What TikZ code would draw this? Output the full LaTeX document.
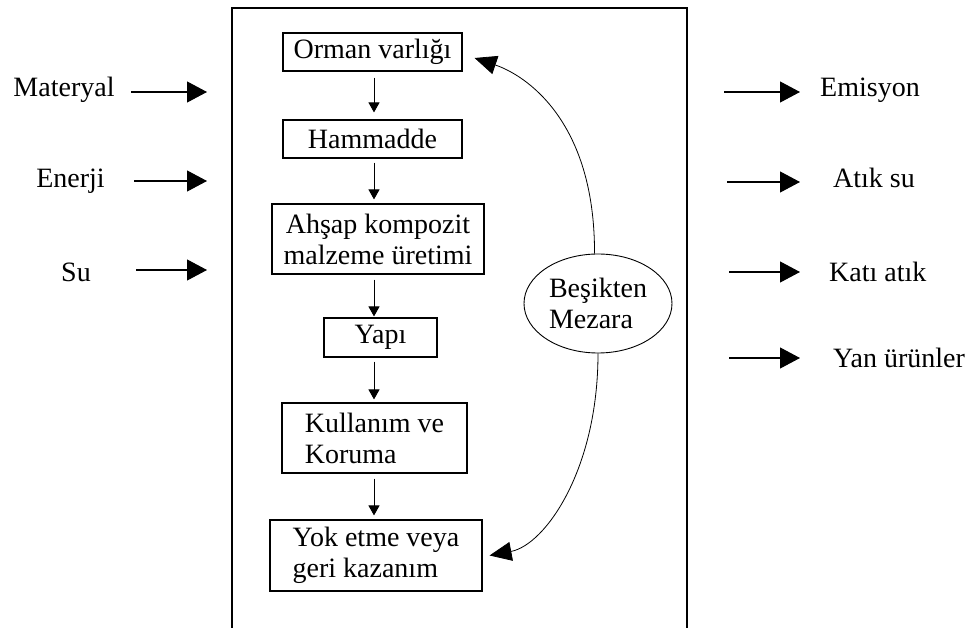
\documentclass[tikz,border=0pt]{standalone}
\usepackage{fontspec}
\setmainfont{Liberation Serif}
\usetikzlibrary{arrows.meta,shapes.geometric,calc}

\begin{document}
\begin{tikzpicture}[x=1pt,y=-1pt,
  txt/.style={font=\fontsize{28}{31}\selectfont, inner sep=0pt},
  stage/.style={txt, draw, line width=1.1pt, align=left},
  flow/.style={line width=1pt, -{Triangle[length=10pt,width=11pt]}},
  sidearrow/.style={line width=1.1pt, -{Triangle[length=20pt,width=21pt]}},
  cycle/.style={line width=0.8pt, -{Triangle[length=22pt,width=19pt]}}]
\useasboundingbox (0,0) rectangle (970,628);

% system boundary (open at the bottom)
\draw[line width=1.5pt] (232,640) -- (232,8) -- (687,8) -- (687,640);

% life-cycle stages
\node[stage, minimum width=179pt, minimum height=38pt] (orman) at (372.5,52) {Orman varlığı};
\node[stage, minimum width=179pt, minimum height=38pt] (ham) at (372.5,139) {Hammadde};
\node[stage, minimum width=212pt, minimum height=70pt, align=center] (uretim) at (378,239) {Ahşap kompozit\\malzeme üretimi};
\node[stage, minimum width=113pt, minimum height=39pt] (yapi) at (380.5,337.5) {Yapı};
\node[stage, minimum width=185pt, minimum height=70pt] (kullanim) at (374.5,438) {Kullanım ve\\Koruma};
\node[stage, minimum width=212pt, minimum height=71pt] (yok) at (376,555.5) {Yok etme veya\\geri kazanım};

% the downward flow runs along one vertical line
\coordinate (spine) at (374,0);
\draw[flow, shorten <=6pt, shorten >=7pt] (orman.south -| spine) -- (ham.north -| spine);
\draw[flow, shorten <=4pt, shorten >=4pt] (ham.south -| spine) -- (uretim.north -| spine);
\draw[flow, shorten <=5pt, shorten >=1pt] (uretim.south -| spine) -- (yapi.north -| spine);
\draw[flow, shorten <=4pt, shorten >=3pt] (yapi.south -| spine) -- (kullanim.north -| spine);
\draw[flow, shorten <=5pt, shorten >=4pt] (kullanim.south -| spine) -- (yok.north -| spine);

% cradle-to-grave loop
\node[txt, draw, ellipse, line width=0.9pt, minimum width=148pt, minimum height=99pt, align=left] (bm) at (598,303.5) {Beşikten\\Mezara};
\draw[cycle] (bm.94) .. controls (595,120) and (525,75) .. ($(orman.east)+(12,6)$);
\draw[cycle] (bm.270) .. controls (598,470) and (545,545) .. ($(yok.east)+(7,0)$);

% inputs
\node[txt, anchor=base] (mat) at (64,97) {Materyal};
\node[txt, anchor=base] (ene) at (70.5,188) {Enerji};
\node[txt, anchor=base] (su) at (76,282) {Su};
\coordinate (matA) at (131,92);  \coordinate (matB) at (207,92);
\coordinate (eneA) at (134,181); \coordinate (eneB) at (207,181);
\coordinate (suA) at (136,270);  \coordinate (suB) at (207,270);
\draw[sidearrow] (matA) -- (matB);
\draw[sidearrow] (eneA) -- (eneB);
\draw[sidearrow] (suA) -- (suB);

% outputs
\node[txt, anchor=base west] (emi) at (820,97) {Emisyon};
\node[txt, anchor=base west] (atsu) at (833,188) {Atık su};
\node[txt, anchor=base west] (kati) at (829,282) {Katı atık};
\node[txt, anchor=base west] (yan) at (833,368) {Yan ürünler};
\coordinate (emiA) at (724,92);  \coordinate (emiB) at (800,92);
\coordinate (atsuA) at (727,182); \coordinate (atsuB) at (800,182);
\coordinate (katiA) at (729,272); \coordinate (katiB) at (800,272);
\coordinate (yanA) at (729,358);  \coordinate (yanB) at (800,358);
\draw[sidearrow] (emiA) -- (emiB);
\draw[sidearrow] (atsuA) -- (atsuB);
\draw[sidearrow] (katiA) -- (katiB);
\draw[sidearrow] (yanA) -- (yanB);
\end{tikzpicture}
\end{document}
